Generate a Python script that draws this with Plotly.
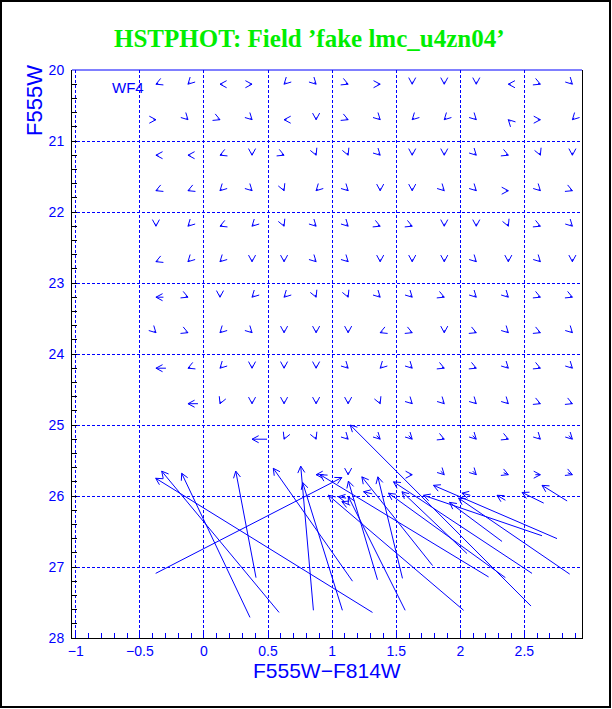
import math
import plotly.graph_objects as go

# ---------------- data ----------------
col_x = [-0.375, -0.125, 0.125, 0.375, 0.625, 0.875, 1.125, 1.375,
         1.625, 1.875, 2.125, 2.375, 2.625, 2.875]
row_mag = [20.2, 20.7, 21.2, 21.7, 22.2, 22.7, 23.2, 23.7, 24.2, 24.7, 25.2, 25.7]
# direction of each (tiny) shift vector, screen compass; '' = empty cell; trailing digit = longer shaft
row_dirs = [
    ["WSW", "SW", "W", "E", "SW", "SE", "ESE", "E", "S", "S", "S", "W", "ESE", "SE"],
    ["E", "SE", "ESE", "SE", "W", "S", "ESE", "SE", "SW", "SW", "SE", "NW", "E", "SW"],
    ["W", "W", "WSW", "S", "ESE", "SSE", "SSE", "SE", "S", "S", "SE", "ESE", "SSE", "S"],
    ["WSW", "WSW", "SW", "SE", "SSE", "SW", "SE", "S", "S", "SE", "SE", "E", "SE", "ESE"],
    ["S", "SW", "WSW", "SW", "SSE", "SE", "SE", "ESE", "ESE", "S", "S", "SSE", "ESE", "SE"],
    ["WSW", "SW", "SW", "S", "S", "SE", "SE", "S", "S", "S", "SE", "S", "SE", "S"],
    ["W3", "ESE", "S", "SW", "SW", "SSE", "SSE", "SE", "SE", "ESE", "SE", "SE", "ESE", "ESE"],
    ["SE", "ESE", "SW", "SE", "S", "S", "S", "WSW", "ESE", "S", "ESE", "SE", "ESE", "SE"],
    ["W4", "WSW", "SW", "S", "S", "S", "SE", "SW", "SE", "ESE", "ESE", "SE", "ESE", "SE"],
    ["", "W4", "SSW", "S", "S", "S", "S", "SSE", "SE", "SE", "SE", "SE", "ESE", "ESE"],
    ["", "", "", "W6", "SSW", "SSE", "SE", "SE2", "SE2", "ESE", "SE2", "ESE", "SE", "SE2"],
    ["", "", "", "", "", "W3", "S", "", "E", "SE2", "SE2", "ESE2", "E2", "ESE2"],
]

# large shifts: output (tail) -> input (head)
big_col_out = [1.315, 0.586, 0.359, 0.406, -0.377, 1.159, 0.854, 1.080, 2.552, 2.221, 2.026,
               1.354, 1.570, 1.549, 1.784, 2.352, 2.560, 2.052, 2.638, 2.755, 2.326, 2.854,
               1.109, 1.313, 2.078, 2.352, 2.651, 2.834, 1.141]
big_mag_out = [27.64, 27.64, 27.71, 27.15, 27.09, 27.20, 27.61, 27.61, 27.55, 27.14, 27.61,
               27.18, 27.61, 27.16, 26.98, 27.15, 27.09, 26.81, 26.56, 26.60, 26.64, 27.10,
               26.03, 25.97, 25.99, 26.06, 26.10, 26.07, 26.13]
big_col_in = [-0.377, -0.330, -0.174, 0.248, 1.076, 0.541, 0.755, 0.770, 1.141, 0.906, 0.971,
              1.127, 1.127, 1.357, 1.232, 1.440, 1.479, 1.545, 1.713, 1.791, 1.916, 1.987,
              1.049, 1.245, 2.013, 2.287, 2.482, 2.638, 1.076]
big_mag_in = [25.75, 25.65, 25.68, 25.65, 25.74, 25.61, 25.58, 25.81, 25.00, 25.70, 25.99,
              25.79, 26.01, 25.73, 25.73, 25.96, 25.80, 25.94, 25.99, 25.85, 26.09, 26.03,
              26.01, 25.94, 25.96, 25.99, 25.95, 25.85, 26.08]

x_tickvals = [-1, -0.5, 0, 0.5, 1, 1.5, 2, 2.5]
x_ticktext = ["\u22121", "\u22120.5", "0", "0.5", "1", "1.5", "2", "2.5"]
y_tickvals = [20, 21, 22, 23, 24, 25, 26, 27, 28]
y_ticktext = ["20", "21", "22", "23", "24", "25", "26", "27", "28"]

TITLE = "HSTPHOT: Field \u2019fake lmc_u4zn04\u2019"
XTITLE = "F555W\u2212F814W"
YTITLE = "F555W"
CHIP = "WF4"

# ---------------- layout constants ----------------
W, H = 612, 709
ML, MR, MT, MB = 72, 30, 70, 71
XR = [-1.03, 2.95]
YR = [28.0, 20.0]
PW, PH = W - ML - MR, H - MT - MB
SX = PW / (XR[1] - XR[0])
SY = PH / (YR[0] - YR[1])
BLUE = "#0000ff"

COMPASS = {"E": 0, "ESE": 22.5, "SE": 45, "SSE": 67.5, "S": 90, "SSW": 112.5, "SW": 135,
           "WSW": 157.5, "W": 180, "WNW": 202.5, "NW": 225, "NNW": 247.5, "N": 270,
           "NNE": 292.5, "NE": 315, "ENE": 337.5}

xs, ys = [], []


def add_arrow(xt, yt, xh, yh):
    dxp = (xh - xt) * SX
    dyp = (yh - yt) * SY
    n = math.hypot(dxp, dyp) or 1.0
    ux, uy = dxp / n, dyp / n
    xs.extend([xt, xh, None])
    ys.extend([yt, yh, None])
    L, a = 7.5, math.radians(28)
    for s in (1, -1):
        c, sn = math.cos(s * a), math.sin(s * a)
        wx = -(ux * c - uy * sn) * L
        wy = -(ux * sn + uy * c) * L
        xs.extend([xh, xh + wx / SX, None])
        ys.extend([yh, yh + wy / SY, None])


for r, mag in enumerate(row_mag):
    for k, code in enumerate(row_dirs[r]):
        if not code:
            continue
        mult = 1.0
        if code[-1].isdigit():
            mult = float(code[-1])
            code = code[:-1]
        ang = math.radians(COMPASS[code])
        rpx = 2.5 * mult
        xt = col_x[k] - rpx * math.cos(ang) / SX
        yt = mag - rpx * math.sin(ang) / SY
        add_arrow(xt, yt, col_x[k], mag)

for xt, yt, xh, yh in zip(big_col_out, big_mag_out, big_col_in, big_mag_in):
    add_arrow(xt, yt, xh, yh)

fig = go.Figure()
fig.add_trace(go.Scatter(x=xs, y=ys, mode="lines", line=dict(color=BLUE, width=1),
                         hoverinfo="skip", showlegend=False))


def pxx(p):
    return (p - ML) / PW


def pxy(p):
    return 1 - (p - MT) / PH


tickfont = dict(family="Liberation Sans, Arial, sans-serif", size=14, color=BLUE)
fig.update_layout(
    width=W, height=H,
    margin=dict(l=ML, r=MR, t=MT, b=MB, autoexpand=False),
    paper_bgcolor="white", plot_bgcolor="white", showlegend=False,
    xaxis=dict(range=XR, tickvals=x_tickvals, ticktext=x_ticktext, ticks="inside",
               ticklen=5, tickcolor=BLUE, tickwidth=1, showline=True, linecolor="black",
               linewidth=1, mirror=False, showgrid=True, gridcolor=BLUE, gridwidth=1,
               griddash="3px,2px", zeroline=False, tickfont=tickfont,
               minor=dict(dtick=0.1, tick0=0, ticks="inside", ticklen=5, tickcolor=BLUE,
                          showgrid=False)),
    yaxis=dict(range=YR, tickvals=y_tickvals, ticktext=y_ticktext, ticks="inside",
               ticklen=5, tickcolor="black", tickwidth=1, showline=True, linecolor="black",
               linewidth=1, mirror=True, showgrid=True, gridcolor=BLUE, gridwidth=1,
               griddash="3px,2px", zeroline=False, tickfont=tickfont, ticklabelstandoff=4,
               minor=dict(dtick=0.2, tick0=20, ticks="inside", ticklen=5, tickcolor="black",
                          showgrid=False)),
    annotations=[
        dict(text="<b>" + TITLE + "</b>", x=pxx(309), y=pxy(38), xref="paper", yref="paper",
             showarrow=False, xanchor="center", yanchor="middle",
             font=dict(family="Liberation Serif, Times New Roman, serif", size=25, color="#00ee00")),
        dict(text=XTITLE, x=pxx(327), y=pxy(670), xref="paper", yref="paper", showarrow=False,
             xanchor="center", yanchor="middle",
             font=dict(family="Liberation Sans, Arial, sans-serif", size=21, color=BLUE)),
        dict(text=YTITLE, x=pxx(35), y=pxy(101), xref="paper", yref="paper", showarrow=False,
             xanchor="center", yanchor="middle", textangle=-90,
             font=dict(family="Liberation Sans, Arial, sans-serif", size=22, color=BLUE)),
        dict(text=CHIP, x=pxx(127.5), y=pxy(87.5), xref="paper", yref="paper", showarrow=False,
             xanchor="center", yanchor="middle",
             font=dict(family="Liberation Sans, Arial, sans-serif", size=15, color=BLUE)),
    ],
    shapes=[
        dict(type="line", xref="paper", yref="paper", x0=0, x1=1, y0=1, y1=1,
             line=dict(color=BLUE, width=1)),
        dict(type="rect", xref="paper", yref="paper", x0=pxx(1), x1=pxx(610), y0=pxy(707),
             y1=pxy(1), line=dict(color="black", width=2)),
    ],
)

fig.write_html("out.html", config={"displayModeBar": False},
               post_script="document.body.style.margin='0px';")
